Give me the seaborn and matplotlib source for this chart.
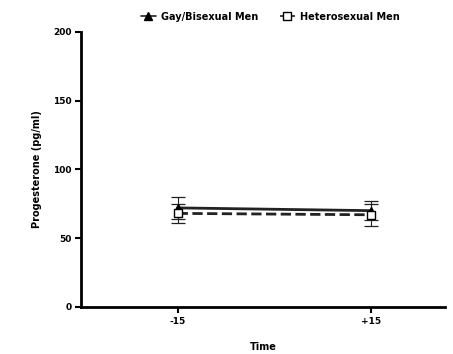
import pandas as pd
import matplotlib
matplotlib.use("Agg")
import matplotlib.pyplot as plt
import seaborn as sns

# Datos
tiempo = [-15, 15]
etiquetas_x = ["-15", "+15"]
gay_media = [72, 70]
gay_error = [8, 7]
hetero_media = [68, 67]
hetero_error = [7, 8]

df = pd.DataFrame({
    "tiempo": tiempo * 2,
    "media": gay_media + hetero_media,
    "error": gay_error + hetero_error,
    "grupo": ["Gay/Bisexual Men"] * 2 + ["Heterosexual Men"] * 2,
})

sns.set_style("ticks")
plt.rcParams["font.family"] = ["DejaVu Sans"]
plt.rcParams["text.color"] = "black"

fig = plt.figure(figsize=(4.53, 3.54), dpi=100)
ax = fig.add_axes([0.179, 0.133, 0.803, 0.777])

estilos = {
    "Gay/Bisexual Men": dict(marker="^", ls="-", mfc="black"),
    "Heterosexual Men": dict(marker="s", ls="--", mfc="white"),
}
for grupo, sub in df.groupby("grupo"):
    st = estilos[grupo]
    ax.errorbar(sub["tiempo"], sub["media"], yerr=sub["error"], fmt="none",
                ecolor="#222222", elinewidth=0.8, capsize=5, capthick=0.9, zorder=2)
    sns.lineplot(data=sub, x="tiempo", y="media", ax=ax, color="#222222",
                 linestyle=st["ls"], linewidth=2, marker=st["marker"], markersize=6,
                 markerfacecolor=st["mfc"], markeredgecolor="black",
                 markeredgewidth=1, label=grupo, zorder=3)

ax.set_xlim(-30, 26.5)
ax.set_ylim(0, 200)
ax.set_yticks([0, 50, 100, 150, 200])
ax.set_xticks(tiempo)
ax.set_xticklabels(etiquetas_x)
for lab in ax.get_xticklabels() + ax.get_yticklabels():
    lab.set_fontweight("bold")
    lab.set_fontsize(6.5)
    lab.set_color("black")
ax.tick_params(length=4, width=1.5, color="black", pad=3)
ax.set_xlabel("Time", fontsize=7, fontweight="bold", labelpad=12, color="black")
ax.set_ylabel("Progesterone (pg/ml)", fontsize=7, fontweight="bold", labelpad=8, color="black")
for s in ["left", "bottom"]:
    ax.spines[s].set_linewidth(2)
    ax.spines[s].set_color("black")
sns.despine(ax=ax)

leg = ax.legend(loc="lower center", bbox_to_anchor=(0.52, 1.005), ncol=2, frameon=False,
                prop={"weight": "bold", "size": 7}, handlelength=1.6, columnspacing=2.2,
                handletextpad=0.5, markerscale=0.9)
for h in leg.get_lines():
    h.set_linewidth(1.2)

fig.savefig("out.png", dpi=100)
